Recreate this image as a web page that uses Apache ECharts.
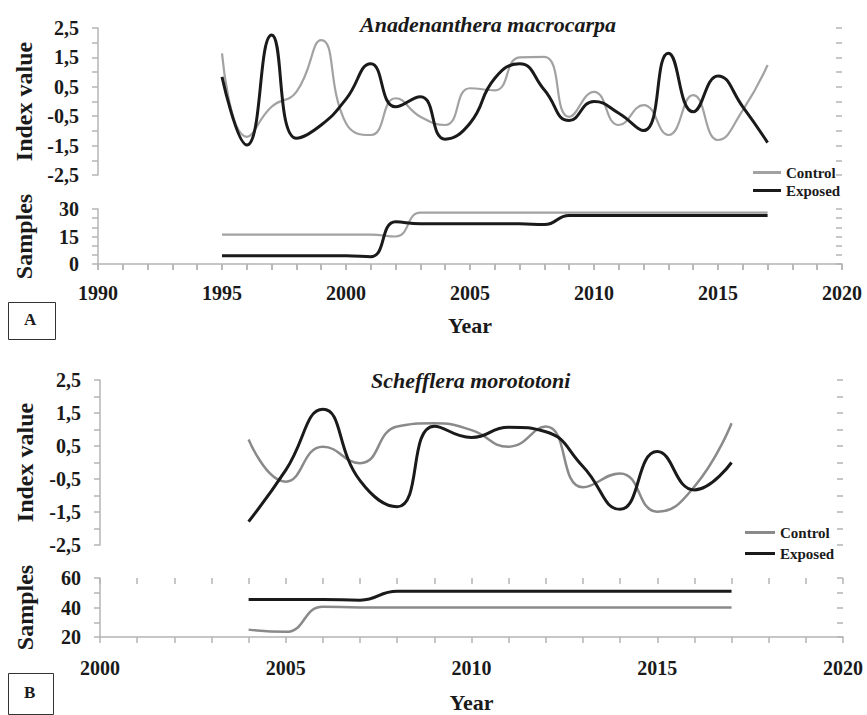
<!DOCTYPE html>
<html>
<head>
<meta charset="utf-8">
<style>
  html, body { margin: 0; padding: 0; background: #fff; }
  #chart { width: 867px; height: 715px; }
</style>
<script src="https://cdn.jsdelivr.net/npm/echarts@6.0.0/dist/echarts.min.js"></script>
</head>
<body>
<div id="chart"></div>
<script>
// --- Panel A: Anadenanthera macrocarpa ---
var yearsA = [1995, 1996, 1997, 1998, 1999, 2000, 2001, 2002, 2003, 2004, 2005, 2006,
  2007, 2008, 2009, 2010, 2011, 2012, 2013, 2014, 2015, 2016, 2017];
var controlIndexA = [1.64, -1.2, -0.18, 0.33, 2.09, -0.74, -1.14, 0.11, -0.52, -0.8, 0.45, 0.38,
  1.5, 1.52, -0.52, 0.33, -0.8, -0.12, -1.14, 0.22, -1.31, -0.29, 1.24];
var exposedIndexA = [0.84, -1.48, 2.26, -1.25, -0.8, 0.08, 1.28, -0.18, 0.16, -1.28, -0.74, 0.79,
  1.28, 0.39, -0.65, 0.0, -0.4, -0.99, 1.64, -0.35, 0.87, -0.18, -1.4];
var controlSamplesA = [16, 16, 16, 16, 16, 16, 16, 15, 28, 28, 28, 28,
  28, 28, 28, 28, 28, 28, 28, 28, 28, 28, 28];
var exposedSamplesA = [4.5, 4.5, 4.5, 4.5, 4.5, 4.5, 4, 23, 22, 22, 22, 22,
  22, 21.5, 26.5, 26.5, 26.5, 26.5, 26.5, 26.5, 26.5, 26.5, 26.5];

// --- Panel B: Schefflera morototoni ---
var yearsB = [2004, 2005, 2006, 2007, 2008, 2009, 2010, 2011, 2012, 2013, 2014, 2015, 2016, 2017];
var controlIndexB = [0.7, -0.58, 0.48, -0.02, 1.09, 1.19, 0.98, 0.48, 1.09, -0.75, -0.33, -1.49, -0.73, 1.19];
var exposedIndexB = [-1.79, -0.23, 1.61, -0.55, -1.34, 1.1, 0.76, 1.07, 0.93, -0.12, -1.42, 0.33, -0.83, 0.0];
var controlSamplesB = [25, 23.5, 40.5, 40, 40, 40, 40, 40, 40, 40, 40, 40, 40, 40];
var exposedSamplesB = [45.5, 45.5, 45.5, 45, 51, 51, 51, 51, 51, 51, 51, 51, 51, 51];

var serif = "'Liberation Serif', 'DejaVu Serif', serif";
var ink = '#1a1a1a';
var axisGray = '#b4b4b4';
var grayA = '#a2a2a2';
var grayB = '#8a8a8a';

function pairs(xs, ys) {
  return xs.map(function(x, i) { return [x, ys[i]]; });
}
function comma(v) { return String(v).replace('.', ','); }

// tick marks cross the axis: one axis draws outside ticks + labels, a twin draws inside ticks
function yPair(grid, min, max, step, fmt, name, gap) {
  var base = {
    type: 'value', gridIndex: grid, min: min, max: max, interval: step,
    splitLine: { show: false }
  };
  return [
    Object.assign({}, base, {
      name: name, nameLocation: 'middle', nameGap: gap,
      nameTextStyle: { fontFamily: serif, fontWeight: 'bold', fontSize: 24, color: ink },
      axisLine: { show: true, lineStyle: { color: axisGray, width: 1.5 } },
      axisTick: { show: true, length: 6, lineStyle: { color: axisGray, width: 1.5 } },
      axisLabel: { margin: 19, fontFamily: serif, fontWeight: 'bold', fontSize: 20, color: ink, formatter: fmt }
    }),
    Object.assign({}, base, {
      axisLine: { show: false },
      axisTick: { show: true, inside: true, length: 6, lineStyle: { color: axisGray, width: 1.5 } },
      axisLabel: { show: false }
    })
  ];
}
function xPair(grid, min, max, margin, gap) {
  var base = { type: 'value', gridIndex: grid, min: min, max: max, interval: 1, splitLine: { show: false } };
  return [
    Object.assign({}, base, {
      name: 'Year', nameLocation: 'middle', nameGap: gap,
      nameTextStyle: { fontFamily: serif, fontWeight: 'bold', fontSize: 22, color: ink },
      axisLine: { show: true, lineStyle: { color: axisGray, width: 1.5 } },
      axisTick: { show: true, length: 6, lineStyle: { color: axisGray, width: 1.5 } },
      axisLabel: {
        margin: margin, fontFamily: serif, fontWeight: 'bold', fontSize: 20, color: ink,
        formatter: function(v) { return v % 5 === 0 ? String(v) : ''; }
      }
    }),
    Object.assign({}, base, {
      axisLine: { show: false },
      axisTick: { show: true, inside: true, length: 6, lineStyle: { color: axisGray, width: 1.5 } },
      axisLabel: { show: false }
    })
  ];
}
function hiddenX(grid, min, max) {
  return { type: 'value', gridIndex: grid, min: min, max: max, show: false };
}

var indexFmt = function(v) { return Math.abs(Math.round(v * 2)) % 2 === 1 ? comma(v) : ''; };

var xAxes = [hiddenX(0, 1990, 2020)]
  .concat(xPair(1, 1990, 2020, 19, 50))
  .concat([hiddenX(2, 2000, 2020)])
  .concat(xPair(3, 2000, 2020, 21, 54));

var yAxes = []
  .concat(yPair(0, -2.5, 2.5, 0.5, indexFmt, 'Index value', 62))
  .concat(yPair(1, 0, 30, 5, function(v) { return v % 15 === 0 ? String(v) : ''; }, 'Samples', 62))
  .concat(yPair(2, -2.5, 2.5, 0.5, indexFmt, 'Index value', 63))
  .concat(yPair(3, 20, 60, 10, function(v) { return v % 20 === 0 ? String(v) : ''; }, 'Samples', 63));

function line(name, xi, yi, data, color, width) {
  return {
    name: name, type: 'line', xAxisIndex: xi, yAxisIndex: yi, data: data,
    smooth: 0.5, symbol: 'none',
    lineStyle: { color: color, width: width }, itemStyle: { color: color }
  };
}

var legendText = { fontFamily: serif, fontWeight: 'bold', fontSize: 15, color: ink };

var chart = echarts.init(document.getElementById('chart'), null, { renderer: 'svg' });
chart.setOption({
  animation: false,
  backgroundColor: '#fff',
  title: [
    { text: 'Anadenanthera macrocarpa', left: 355, top: 8,
      textStyle: { fontFamily: serif, fontStyle: 'italic', fontWeight: 'bold', fontSize: 22, color: ink } },
    { text: 'Schefflera morototoni', left: 366, top: 364,
      textStyle: { fontFamily: serif, fontStyle: 'italic', fontWeight: 'bold', fontSize: 22, color: ink } }
  ],
  legend: [
    { orient: 'vertical', left: 748, top: 160, itemGap: 3, itemWidth: 28, itemHeight: 3, icon: 'rect',
      textStyle: legendText, selectedMode: false,
      data: [{ name: 'Control', itemStyle: { color: grayA } }, { name: 'Exposed', itemStyle: { color: ink } }] },
    { orient: 'vertical', left: 740, top: 520, itemGap: 6, itemWidth: 30, itemHeight: 3, icon: 'rect',
      textStyle: legendText, selectedMode: false,
      data: [{ name: 'Control', itemStyle: { color: grayB } }, { name: 'Exposed', itemStyle: { color: ink } }] }
  ],
  grid: [
    { left: 98, right: 25, top: 28, height: 147 },
    { left: 98, right: 25, top: 209, height: 55 },
    { left: 100, right: 24, top: 380, height: 165 },
    { left: 100, right: 24, top: 578, height: 59 }
  ],
  xAxis: xAxes,
  yAxis: yAxes,
  series: [
    line('Control', 0, 0, pairs(yearsA, controlIndexA), grayA, 2.2),
    line('Exposed', 0, 0, pairs(yearsA, exposedIndexA), ink, 3),
    line('Control', 1, 2, pairs(yearsA, controlSamplesA), grayA, 2.2),
    line('Exposed', 1, 2, pairs(yearsA, exposedSamplesA), ink, 3),
    line('Control', 3, 4, pairs(yearsB, controlIndexB), grayB, 2.5),
    line('Exposed', 3, 4, pairs(yearsB, exposedIndexB), ink, 3),
    line('Control', 4, 6, pairs(yearsB, controlSamplesB), grayB, 2.5),
    line('Exposed', 4, 6, pairs(yearsB, exposedSamplesB), ink, 3)
  ],
  graphic: [
    { type: 'rect', left: 8, top: 302, shape: { width: 47, height: 37 },
      style: { fill: '#fff', stroke: '#333', lineWidth: 1 } },
    { type: 'text', left: 24, top: 311,
      style: { text: 'A', font: 'bold 17px ' + serif, fill: ink } },
    { type: 'rect', left: 8, top: 673, shape: { width: 45, height: 41 },
      style: { fill: '#fff', stroke: '#333', lineWidth: 1 } },
    { type: 'text', left: 24, top: 684,
      style: { text: 'B', font: 'bold 17px ' + serif, fill: ink } }
  ]
});
window.addEventListener('resize', function() { chart.resize(); });
</script>
</body>
</html>
